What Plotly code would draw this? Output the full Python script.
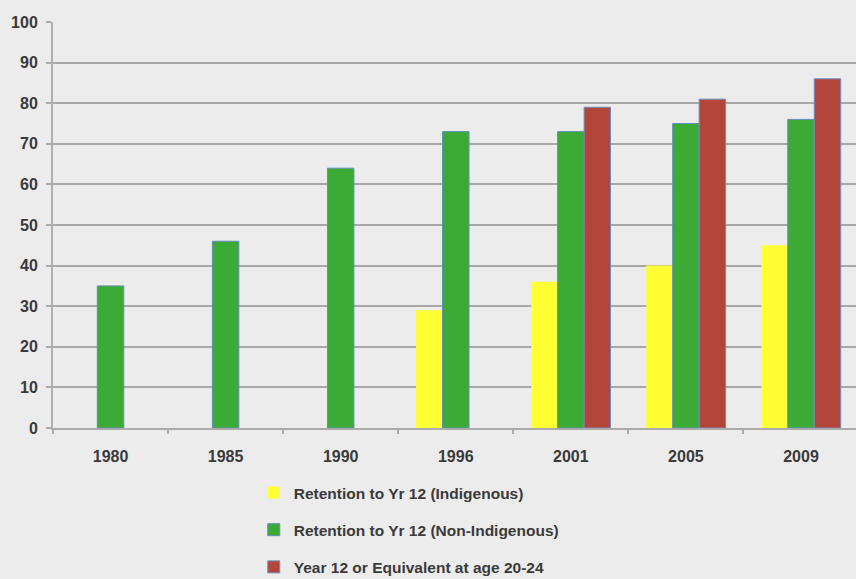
import plotly.graph_objects as go

years = ["1980", "1985", "1990", "1996", "2001", "2005", "2009"]
indigenous = [None, None, None, 29, 36, 40, 45]
non_indigenous = [35, 46, 64, 73, 73, 75, 76]
year12_equiv = [None, None, None, None, 79, 81, 86]
y_ticks = [0, 10, 20, 30, 40, 50, 60, 70, 80, 90, 100]

names = ["Retention to Yr 12 (Indigenous)",
         "Retention to Yr 12 (Non-Indigenous)",
         "Year 12 or Equivalent at age 20-24"]

FONT = "Liberation Sans, Arial, sans-serif"
TXT = "#3a3a3a"

fig = go.Figure()
fig.add_trace(go.Bar(x=years, y=indigenous, name=names[0], legendgroup="a",
                     marker=dict(color="#ffff33", line=dict(width=0))))
fig.add_trace(go.Bar(x=years, y=non_indigenous, name=names[1], legendgroup="b",
                     marker=dict(color="#3bab36", line=dict(color="#5f8fb8", width=1))))
fig.add_trace(go.Bar(x=years, y=year12_equiv, name=names[2], legendgroup="c",
                     marker=dict(color="#b3453b", line=dict(color="#6f8fc0", width=1))))

fig.update_layout(
    width=856, height=579,
    margin=dict(l=53, r=0, t=22, b=151),
    paper_bgcolor="#ececec", plot_bgcolor="#ececec",
    barmode="group", bargap=0.31, bargroupgap=0,
    font=dict(family=FONT, size=15, color=TXT),
    xaxis=dict(type="category", range=[-0.5, 6.478], tickson="boundaries",
               ticks="outside", ticklen=4, tickcolor="#aaaaaa", tickwidth=2,
               showline=True, linecolor="#aaaaaa", linewidth=2,
               showgrid=False, ticklabelstandoff=13,
               tickfont=dict(size=16, color=TXT, family=FONT, weight="bold"),
               ),
    yaxis=dict(range=[0, 100], tickvals=y_ticks, ticks="outside", ticklen=5,
               tickcolor="#aaaaaa", tickwidth=2,
               showline=True, linecolor="#b0b0b0", linewidth=2,
               gridcolor="#a8a8a8", gridwidth=2, zeroline=False,
               ticklabelstandoff=5,
               tickfont=dict(size=16, color=TXT, family=FONT, weight="bold")),
    legend=dict(orientation="v", x=0.25, y=1 - 476 / 579, xanchor="left", yanchor="top",
                yref="container", bgcolor="rgba(0,0,0,0)", itemwidth=30,
                tracegroupgap=14, traceorder="grouped",
                font=dict(size=15.5, color=TXT, family=FONT, weight="bold")),
    showlegend=True,
)

fig.write_html("out.html")
